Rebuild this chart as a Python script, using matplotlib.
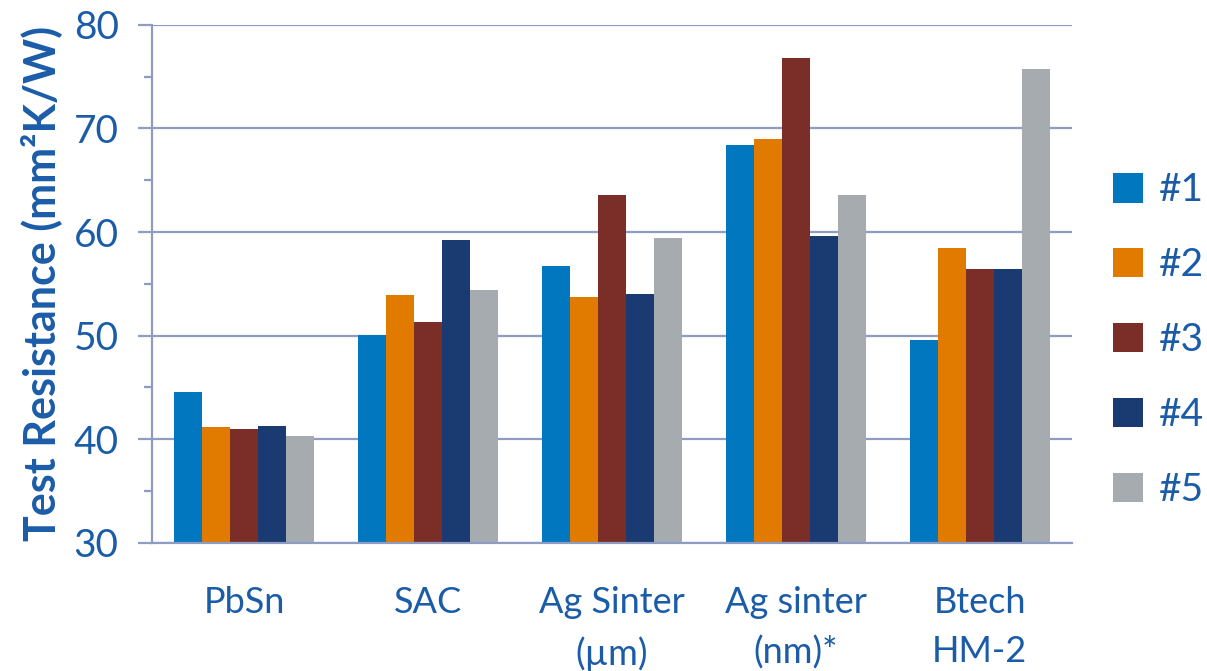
import matplotlib.pyplot as plt
import numpy as np

plt.rcParams['font.family'] = ['Lato', 'DejaVu Sans']

# categories and series
categories = ['PbSn', 'SAC', 'Ag Sinter\n(µm)', 'Ag sinter\n(nm)*', 'Btech\nHM-2']
series_names = ['#1', '#2', '#3', '#4', '#5']
s1 = [44.6, 50.1, 56.7, 68.4, 49.6]
s2 = [41.2, 53.9, 53.7, 69.0, 58.5]
s3 = [41.0, 51.3, 63.6, 76.8, 56.4]
s4 = [41.3, 59.2, 54.0, 59.6, 56.4]
s5 = [40.3, 54.4, 59.4, 63.6, 75.7]
series = [s1, s2, s3, s4, s5]
colors = ['#0077BE', '#E07B00', '#7B2E28', '#1A3A72', '#A5ABAE']

text_col = '#1B5CA8'
axis_col = '#8E9CC4'

fig = plt.figure(figsize=(12.07, 6.71), dpi=100)
ax = fig.add_axes([0.126, 0.191, 0.762, 0.772])

x = np.arange(len(categories))
w = 0.152
for i, (vals, c, name) in enumerate(zip(series, colors, series_names)):
    ax.bar(x + (i - 2) * w, np.array(vals) - 30, width=w, bottom=30, color=c, label=name)

ax.set_xlim(-0.5, len(categories) - 0.5)
ax.set_ylim(30, 80)
ax.set_yticks(range(30, 81, 10))
ax.set_yticks(range(35, 80, 10), minor=True)
ax.yaxis.grid(True, color=axis_col, linewidth=1.6)
ax.set_axisbelow(True)

for side in ['top', 'right']:
    ax.spines[side].set_visible(False)
ax.spines['left'].set_color(axis_col)
ax.spines['left'].set_linewidth(1.6)
ax.spines['bottom'].set_color(axis_col)
ax.spines['bottom'].set_linewidth(1.6)

ax.tick_params(axis='y', which='major', length=10, width=1.6, color=axis_col,
               labelsize=28, labelcolor=text_col, pad=14)
ax.tick_params(axis='y', which='minor', length=6, width=1.6, color=axis_col)
ax.set_xticks(x)
ax.set_xticklabels(categories, linespacing=1.6)
ax.tick_params(axis='x', length=0, labelsize=26, labelcolor=text_col, pad=31)
for lab in ax.get_xticklabels():
    lab.set_verticalalignment('top')

ax.set_ylabel('Test Resistance (mm²K/W)', fontsize=31, fontweight='bold',
              color=text_col, labelpad=8)

leg = fig.legend(loc='upper left', bbox_to_anchor=(0.922, 0.743), frameon=False,
                 fontsize=28, handlelength=0.78, handleheight=0.78,
                 handletextpad=0.4, labelspacing=1.0, labelcolor=text_col,
                 borderpad=0, borderaxespad=0)

fig.savefig('out.png', dpi=100)
